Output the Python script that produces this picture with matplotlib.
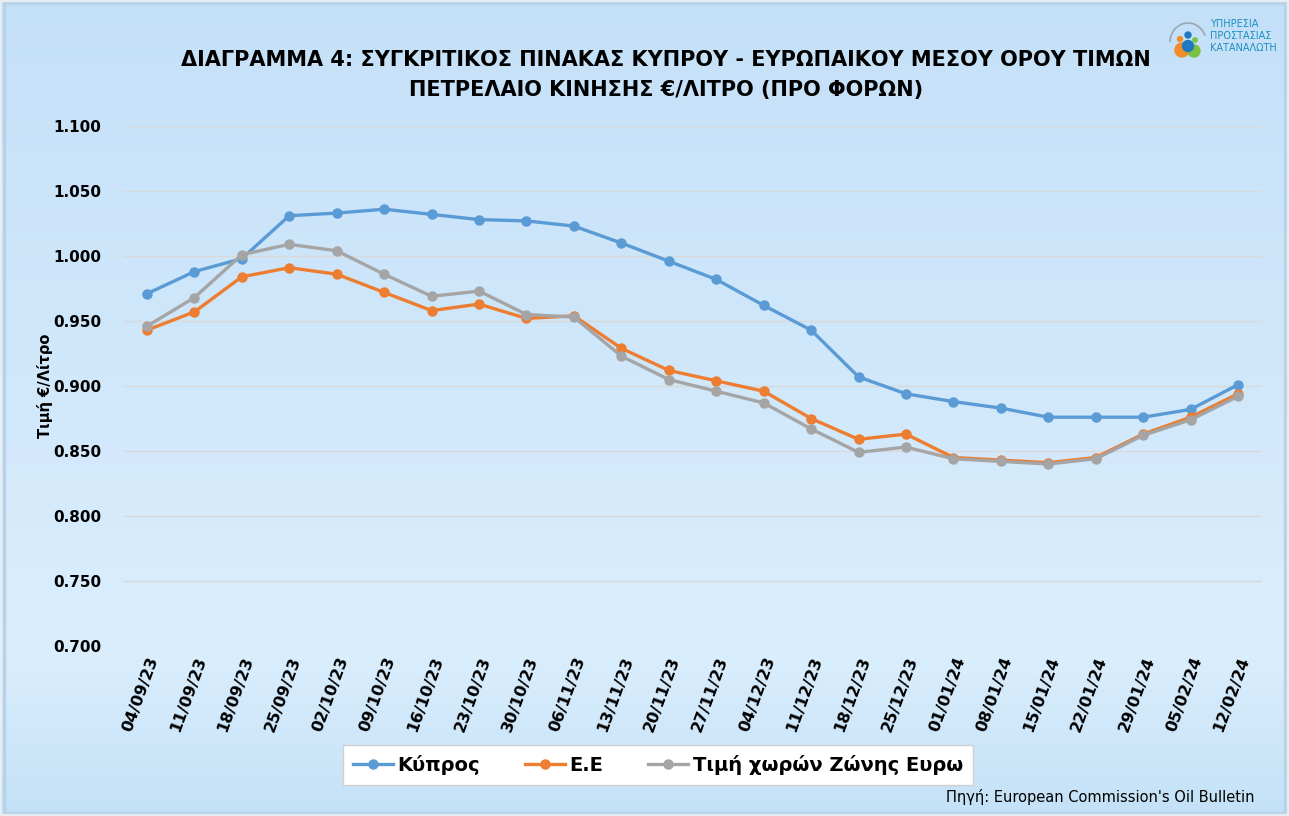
import matplotlib.pyplot as plt
import numpy as np
from matplotlib.patches import Circle, Arc, Rectangle

labels = ["04/09/23", "11/09/23", "18/09/23", "25/09/23", "02/10/23", "09/10/23",
          "16/10/23", "23/10/23", "30/10/23", "06/11/23", "13/11/23", "20/11/23",
          "27/11/23", "04/12/23", "11/12/23", "18/12/23", "25/12/23", "01/01/24",
          "08/01/24", "15/01/24", "22/01/24", "29/01/24", "05/02/24", "12/02/24"]
cyprus = [0.971, 0.988, 0.998, 1.031, 1.033, 1.036, 1.032, 1.028, 1.027, 1.023,
          1.010, 0.996, 0.982, 0.962, 0.943, 0.907, 0.894, 0.888, 0.883, 0.876,
          0.876, 0.876, 0.882, 0.901]
eu = [0.943, 0.957, 0.984, 0.991, 0.986, 0.972, 0.958, 0.963, 0.952, 0.954,
      0.929, 0.912, 0.904, 0.896, 0.875, 0.859, 0.863, 0.845, 0.843, 0.841,
      0.845, 0.863, 0.876, 0.894]
euro = [0.946, 0.968, 1.001, 1.009, 1.004, 0.986, 0.969, 0.973, 0.955, 0.953,
        0.923, 0.905, 0.896, 0.887, 0.867, 0.849, 0.853, 0.844, 0.842, 0.840,
        0.844, 0.862, 0.874, 0.892]

series_names = ["Κύπρος", "Ε.Ε", "Τιμή χωρών Ζώνης Ευρω"]
colors = ["#5B9BD5", "#ED7D31", "#A5A5A5"]

W, H = 1289, 816
fig = plt.figure(figsize=(W / 100, H / 100), dpi=100)

# background gradient
bg = fig.add_axes([0, 0, 1, 1])
top = np.array([196, 224, 248]) / 255
mid = np.array([218, 238, 253]) / 255
bot = np.array([196, 225, 247]) / 255
t = np.linspace(0, 1, 400)[:, None]
grad = np.where(t < 0.8, top + (mid - top) * (t / 0.8), mid + (bot - mid) * ((t - 0.8) / 0.2))
bg.imshow(grad[:, None, :].repeat(2, axis=1), aspect="auto", extent=[0, 1, 0, 1])
bg.add_patch(Rectangle((0.003, 0.004), 0.994, 0.992, fill=False, ec="#b9d3e6", lw=2.5))
bg.add_patch(Rectangle((0.0, 0.0), 1, 1, fill=False, ec="#e6eef5", lw=3))
bg.set_xlim(0, 1)
bg.set_ylim(0, 1)
bg.axis("off")

x = np.arange(len(labels))
ax = fig.add_axes([123.25 / W, 1 - 646 / H, 1138.5 / W, 520 / H])
ax.patch.set_alpha(0)
for vals, c, n in zip([cyprus, eu, euro], colors, series_names):
    ax.plot(x, vals, color=c, lw=2.4, marker="o", ms=6.5, label=n, zorder=3)

ax.set_xlim(-0.5, len(labels) - 0.5)
ax.set_ylim(0.7, 1.1)
yt = np.arange(0.7, 1.1001, 0.05)
ax.set_yticks(yt)
ax.set_yticklabels([f"{v:.3f}" for v in yt], fontsize=11, fontweight="bold")
ax.set_xticks(x)
ax.set_xticklabels(labels, rotation=70, fontsize=11.5, fontweight="bold",
                   ha="right", rotation_mode="anchor")
ax.tick_params(length=0, pad=16, axis="y")
ax.tick_params(length=0, pad=6, axis="x")
ax.grid(axis="y", color="#d9d9d9", lw=1)
ax.set_axisbelow(True)
for s in ax.spines.values():
    s.set_visible(False)

fig.text(45 / W, 1 - 386 / H, "Τιμή €/Λίτρο", rotation=90, fontsize=10.5,
         fontweight="bold", ha="center", va="center")

fig.text(666 / W, 1 - 60 / H,
         "ΔΙΑΓΡΑΜΜΑ 4: ΣΥΓΚΡΙΤΙΚΟΣ ΠΙΝΑΚΑΣ ΚΥΠΡΟΥ - ΕΥΡΩΠΑΙΚΟΥ ΜΕΣΟΥ ΟΡΟΥ ΤΙΜΩΝ",
         fontsize=15, fontweight="bold", ha="center", va="center")
fig.text(666 / W, 1 - 90 / H, "ΠΕΤΡΕΛΑΙΟ ΚΙΝΗΣΗΣ €/ΛΙΤΡΟ (ΠΡΟ ΦΟΡΩΝ)",
         fontsize=15, fontweight="bold", ha="center", va="center")

leg = fig.legend(loc="center", bbox_to_anchor=(343 / W, 1 - 785 / H, 630 / W, 40 / H),
                 mode="expand", borderaxespad=0, ncol=3,
                 prop={"size": 14, "weight": "bold"}, frameon=True, fancybox=False,
                 edgecolor="#d0d0d0", facecolor="white", framealpha=1,
                 handlelength=2.05, handletextpad=0.25, columnspacing=1.6,
                 borderpad=0.5)
leg.get_frame().set_linewidth(1)

fig.text(1255 / W, 1 - 797 / H, "Πηγή: European Commission's Oil Bulletin",
         fontsize=10.5, ha="right", va="center")

# logo
lg = fig.add_axes([1168 / W, 1 - 62 / H, 40 / W, 46 / H])
lg.set_xlim(0, 40)
lg.set_ylim(0, 46)
lg.axis("off")
lg.add_patch(Arc((20, 20), 36, 38, theta1=20, theta2=180, color="#9aa7b0", lw=1.2))
lg.add_patch(Circle((14, 12), 7, color="#f28c28"))
lg.add_patch(Circle((26, 11), 6, color="#7cc242"))
lg.add_patch(Circle((20, 16), 5.5, color="#1f78c1"))
lg.add_patch(Circle((20, 27), 3, color="#1f78c1"))
lg.add_patch(Circle((12, 23), 2.5, color="#f28c28"))
lg.add_patch(Circle((27, 22), 2.2, color="#7cc242"))
for i, w in enumerate(["ΥΠΗΡΕΣΙΑ", "ΠΡΟΣΤΑΣΙΑΣ", "ΚΑΤΑΝΑΛΩΤΗ"]):
    fig.text(1210 / W, 1 - (24 + i * 12) / H, w, fontsize=7, color="#1b8fc0",
             ha="left", va="center")

fig.savefig("out.png", dpi=100)
